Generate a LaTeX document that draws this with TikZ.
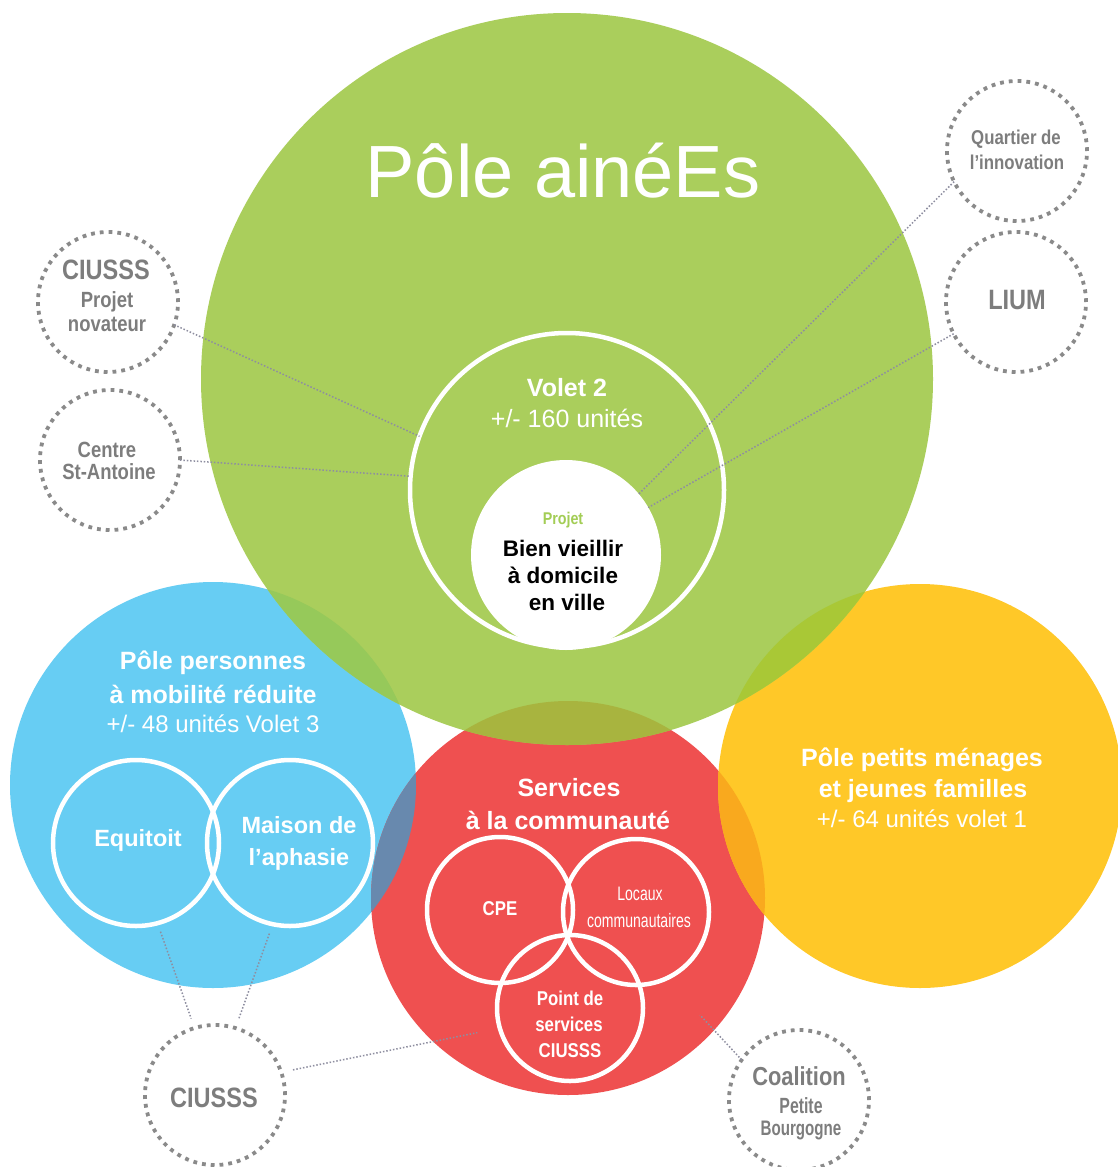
\documentclass[tikz,border=0pt]{standalone}
\usepackage{fontspec}
\setmainfont{Liberation Sans}
\newfontfamily\cond{Liberation Sans}[FakeStretch=0.84]
\newfontfamily\ncond{Liberation Sans}[FakeStretch=0.72]
\definecolor{cgreen}{HTML}{AACE5C}
\definecolor{cblue}{HTML}{67CDF3}
\definecolor{cred}{HTML}{EF5050}
\definecolor{cyellow}{HTML}{FFC828}
\definecolor{cgb}{HTML}{96C95A}
\definecolor{cgr}{HTML}{A8B43F}
\definecolor{cgy}{HTML}{A9C836}
\definecolor{cbr}{HTML}{6889AE}
\definecolor{cry}{HTML}{F9A91E}
\definecolor{cgraytxt}{HTML}{7D7D7D}
\definecolor{cdotc}{HTML}{8A8A8A}
\definecolor{cconn}{HTML}{8E8EA0}
\definecolor{cprojet}{HTML}{A3CD55}
\begin{document}
\begin{tikzpicture}[x=1pt,y=-1pt,
  disc/.style={circle, inner sep=0pt, outer sep=0pt, minimum size=#1},
  ring/.style={circle, draw=white, line width=4.5pt, inner sep=0pt, outer sep=0pt, minimum size=#1},
  dotc/.style={circle, draw=cdotc, line width=3.8pt, dash pattern=on 3.8pt off 5pt, inner sep=0pt, outer sep=0pt, minimum size=140pt},
  conn/.style={draw=cconn, line width=1.5pt, dash pattern=on 1.5pt off 1.9pt},
  lbl/.style={anchor=base, inner sep=0pt, text=white},
  wb/.style={lbl, font=\fontsize{25}{28}\selectfont\bfseries},
  wr/.style={lbl, font=\fontsize{24}{28}\selectfont},
  wsb/.style={lbl, font=\cond\fontsize{20}{24}\selectfont\bfseries},
  gbig/.style={anchor=base, inner sep=0pt, text=cgraytxt, font=\cond\fontsize{28}{30}\selectfont\bfseries},
  gsmall/.style={anchor=base, inner sep=0pt, text=cgraytxt, font=\cond\fontsize{22}{24}\selectfont\bfseries},
  gnarrow/.style={anchor=base, inner sep=0pt, text=cgraytxt, font=\ncond\fontsize{22}{24}\selectfont\bfseries},
  blk/.style={anchor=base, inner sep=0pt, text=black, font=\fontsize{22.5}{26}\selectfont\bfseries}
]
\useasboundingbox (0,0) rectangle (1117,1167);
\fill[white] (0,0) rectangle (1117,1167);

% main discs
\node[disc=406pt, fill=cblue] (pblue) at (213,785) {};
\node[disc=394pt, fill=cred] (pred) at (568,898) {};
\node[disc=404pt, fill=cyellow] (pyellow) at (920,786) {};
\node[disc=732pt, fill=cgreen] (pgreen) at (567,379) {};

% overlaps
\begin{scope}
  \clip (pgreen.center) circle[radius=366pt];
  \fill[cgb] (pblue.center) circle[radius=203pt];
  \fill[cgr] (pred.center) circle[radius=197pt];
  \fill[cgy] (pyellow.center) circle[radius=202pt];
\end{scope}
\begin{scope}
  \clip (pblue.center) circle[radius=203pt];
  \fill[cbr] (pred.center) circle[radius=197pt];
\end{scope}
\begin{scope}
  \clip (pyellow.center) circle[radius=202pt];
  \fill[cry] (pred.center) circle[radius=197pt];
\end{scope}

% inner white rings and disc
\node[ring=314pt] (volet) at (567,490) {};
\node[disc=190pt, fill=white] (inner) at (566,555) {};
\node[ring=166pt] (equitoit) at (136,843) {};
\node[ring=166pt] (maison) at (290,843) {};
\node[ring=146pt] (cpe) at (500,910) {};
\node[ring=146pt] (locaux) at (636,912) {};
\node[ring=146pt] (point) at (570,1008) {};

% dotted partner circles
\node[dotc] (quartier) at (1017,151) {};
\node[dotc] (lium) at (1016,302) {};
\node[dotc] (ciusssa) at (108,302) {};
\node[dotc] (centre) at (110,460) {};
\node[dotc] (ciusssb) at (215,1095) {};
\node[dotc] (coalition) at (799,1100) {};

% connectors
\coordinate (redend) at (700,1015);
\draw[conn] (quartier.206) -- (inner.40);
\draw[conn] (lium.207) -- (inner.30);
\draw[conn] (ciusssa.-19) -- (volet.160);
\draw[conn] (centre.0) -- (volet.175);
\draw[conn, shorten <=9pt, shorten >=10pt] (equitoit.-75) -- (ciusssb.107);
\draw[conn, shorten <=10pt, shorten >=10pt] (maison.-102) -- (ciusssb.73);
\draw[conn, shorten <=12pt, shorten >=23pt] (ciusssb.19) -- (point.196);
\draw[conn] (coalition.145) -- (redend);

% texts: green
\node[anchor=base, inner sep=0pt, text=white, font=\fontsize{74}{80}\selectfont] (ttitle) at (563,197) {Pôle ainéEs};
\node[wb] (tvolet) at (567,396) {Volet 2};
\node[lbl, font=\fontsize{25}{28}\selectfont] (tvunits) at (567,427) {+/- 160 unités};
\node[anchor=base, inner sep=0pt, text=cprojet, font=\cond\fontsize{17}{20}\selectfont\bfseries] (tprojet) at (563,524) {Projet};
\node[blk] (tbien) at (563,556) {Bien vieillir};
\node[blk] (tdom) at (563,583) {à domicile};
\node[blk] (tville) at (567,610) {en ville};

% blue
\node[wb] (tpmr1) at (213,669) {Pôle personnes};
\node[wb] (tpmr2) at (213,703) {à mobilité réduite};
\node[wr] (tpmr3) at (213,732) {+/- 48 unités Volet 3};
\node[wb, font=\fontsize{23.5}{26}\selectfont\bfseries] (tequi) at (138,846) {Equitoit};
\node[wb, font=\fontsize{23.5}{26}\selectfont\bfseries] (tmai1) at (299,833) {Maison de};
\node[wb, font=\fontsize{23.5}{26}\selectfont\bfseries] (tmai2) at (299,865) {l’aphasie};

% red
\node[wb] (tserv1) at (569,796) {Services};
\node[wb] (tserv2) at (568,829) {à la communauté};
\node[wsb] (tcpe) at (500,915) {CPE};
\node[lbl, font=\ncond\fontsize{19.5}{24}\selectfont] (tloc1) at (640,900) {Locaux};
\node[lbl, font=\ncond\fontsize{19.5}{24}\selectfont] (tloc2) at (639,927) {communautaires};
\node[wsb] (tpt1) at (570,1005) {Point de};
\node[wsb] (tpt2) at (569,1031) {services};
\node[wsb] (tpt3) at (570,1057) {CIUSSS};

% yellow
\node[wb] (tyel1) at (922,766) {Pôle petits ménages};
\node[wb] (tyel2) at (923,797) {et jeunes familles};
\node[wr] (tyel3) at (922,827) {+/- 64 unités volet 1};

% gray labels
\node[gsmall, font=\cond\fontsize{20}{22}\selectfont\bfseries] (tq1) at (1016,144) {Quartier de};
\node[gsmall, font=\cond\fontsize{20}{22}\selectfont\bfseries] (tq2) at (1017,169) {l’innovation};
\node[gbig] (tlium) at (1017,309) {LIUM};
\node[gbig] (tca1) at (106,279) {CIUSSS};
\node[gsmall] (tca2) at (107,307) {Projet};
\node[gsmall] (tca3) at (107,331) {novateur};
\node[gsmall] (tce1) at (107,457) {Centre};
\node[gsmall] (tce2) at (109,479) {St-Antoine};
\node[gbig] (tcb) at (214,1107) {CIUSSS};
\node[gbig, font=\cond\fontsize{26}{28}\selectfont\bfseries] (tco1) at (799,1085) {Coalition};
\node[gnarrow] (tco2) at (801,1113) {Petite};
\node[gnarrow, font=\ncond\fontsize{21}{24}\selectfont\bfseries] (tco3) at (801,1135) {Bourgogne};
\end{tikzpicture}
\end{document}
